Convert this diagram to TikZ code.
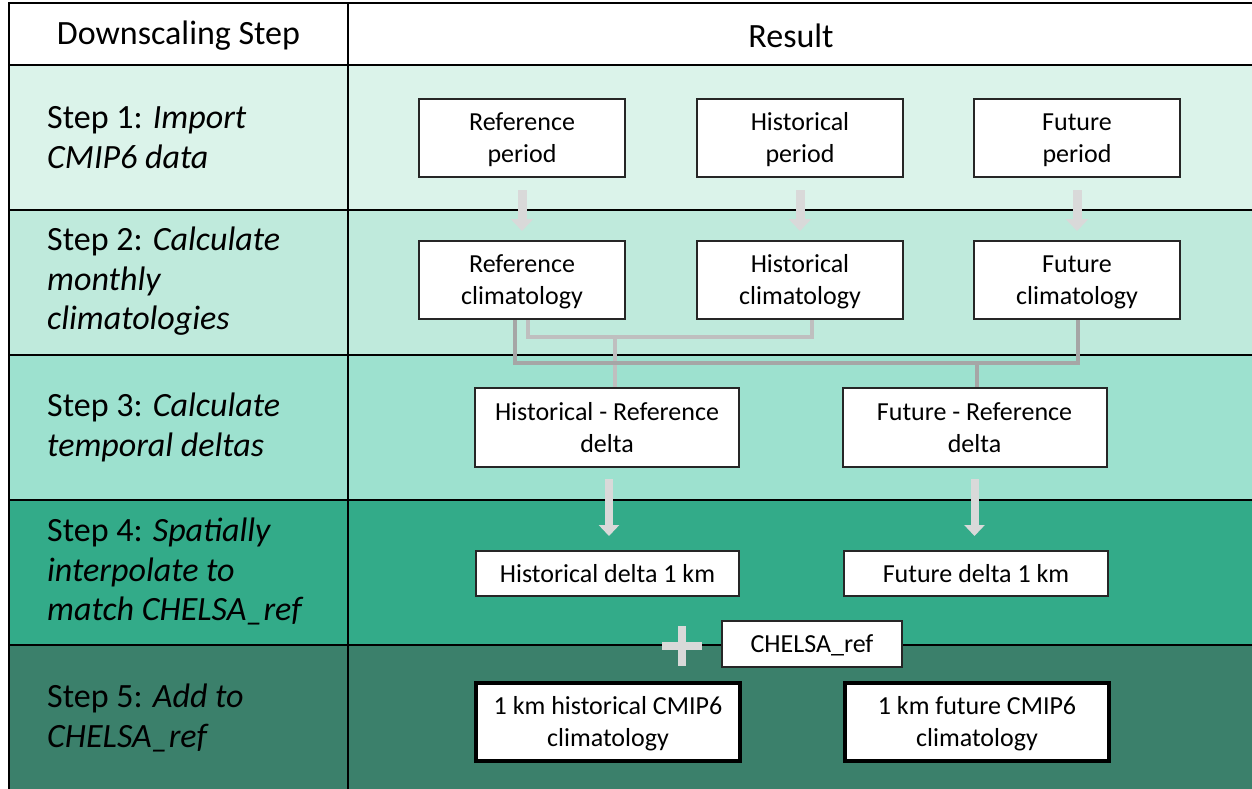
\documentclass[tikz,border=0pt]{standalone}
\usepackage{fontspec}
\setmainfont{Carlito}
\usetikzlibrary{arrows.meta,calc}
\definecolor{rowA}{HTML}{DBF3EA}
\definecolor{rowB}{HTML}{BFEADC}
\definecolor{rowC}{HTML}{9DE1CF}
\definecolor{rowD}{HTML}{33AB89}
\definecolor{rowE}{HTML}{3B806B}
\definecolor{arrowgray}{HTML}{D9D9D9}
\definecolor{conndark}{HTML}{A6A6A6}
\definecolor{connlight}{HTML}{BFBFBF}
\definecolor{boxline}{HTML}{262626}
\newcommand{\dl}[1]{\raisebox{0pt}[\dimexpr\height+5pt\relax][\depth]{\begin{tabular}{@{}c@{}}#1\end{tabular}}}
\begin{document}
\begin{tikzpicture}[x=1pt,y=-1pt,
  tline/.style={draw=black,line width=2pt},
  box/.style={draw=boxline,line width=2pt,fill=white,inner sep=0pt,
    font=\fontsize{26}{32}\selectfont,minimum height=78pt},
  boldbox/.style={box,draw=black,line width=4.5pt},
  steptext/.style={anchor=west,align=left,inner sep=0pt,font=\fontsize{34}{39.5}\selectfont},
  headtext/.style={inner sep=0pt,font=\fontsize{34}{39}\selectfont},
  fatarrow/.style={draw=arrowgray,line width=9pt,-{Triangle[width=22pt,length=12pt]}},
  conndk/.style={draw=conndark,line width=4pt},
  connlt/.style={draw=connlight,line width=4pt},
  plusline/.style={draw=arrowgray,line width=8pt}]
\useasboundingbox (0,0) rectangle (1252,788);
\fill[white] (0,0) rectangle (1252,788);
% row fills
\fill[rowA] (9,65) rectangle (1252,210);
\fill[rowB] (9,210) rectangle (1252,355);
\fill[rowC] (9,355) rectangle (1252,500);
\fill[rowD] (9,500) rectangle (1252,645);
\fill[rowE] (9,645) rectangle (1252,790);
% table lines
\foreach \yy in {3,65,210,355,500,645} {\draw[tline] (8,\yy) -- (1256,\yy);}
\draw[tline] (9,2) -- (9,792);
\draw[tline] (348,2) -- (348,792);
% header
\node[headtext] (hstep) at (178.5,36) {Downscaling Step};
\node[headtext] (hres) at (791,35.5) {Result};
% step labels
\node[steptext] (s1) at (47,137.5) {Step 1: \textit{Import}\\\textit{CMIP6 data}};
\node[steptext] (s2) at (47,281.5) {Step 2: \textit{Calculate}\\\textit{monthly}\\\textit{climatologies}};
\node[steptext] (s3) at (47,427.5) {Step 3: \textit{Calculate}\\\textit{temporal deltas}};
\node[steptext] (s4) at (47,571.5) {Step 4: \textit{Spatially}\\\textit{interpolate to}\\\textit{match CHELSA\_ref}};
\node[steptext] (s5) at (47,718) {Step 5: \textit{Add to}\\\textit{CHELSA\_ref}};
% row 1 boxes
\node[box,minimum width=206pt] (refP) at (522,138) {\dl{Reference\\period}};
\node[box,minimum width=206pt] (histP) at (800,138) {\dl{Historical\\period}};
\node[box,minimum width=206pt] (futP) at (1077,138) {\dl{Future\\period}};
% row 2 boxes
\node[box,minimum width=206pt] (refC) at (522,280) {\dl{Reference\\climatology}};
\node[box,minimum width=206pt] (histC) at (800,280) {\dl{Historical\\climatology}};
\node[box,minimum width=206pt] (futC) at (1077,280) {\dl{Future\\climatology}};
% row 3 boxes
\node[box,minimum width=264pt,minimum height=79pt] (hrd) at (607,427.5) {\dl{Historical - Reference\\delta}};
\node[box,minimum width=264pt,minimum height=79pt] (frd) at (974.5,427.5) {\dl{Future - Reference\\delta}};
% row 4 boxes
\node[box,minimum width=263pt,minimum height=45pt] (hd1) at (607.5,573.5) {Historical delta 1 km};
\node[box,minimum width=264pt,minimum height=45pt] (fd1) at (976,573.5) {Future delta 1 km};
\node[box,minimum width=180pt,minimum height=46pt] (chel) at (812,644) {\dl{CHELSA\_ref}};
% row 5 boxes
\node[boldbox,minimum width=264pt,minimum height=78pt] (h1km) at (608,722) {\dl{1 km historical CMIP6\\climatology}};
\node[boldbox,minimum width=264pt,minimum height=78pt] (f1km) at (977,722) {\dl{1 km future CMIP6\\climatology}};
% arrows row1 -> row2
\draw[fatarrow,shorten <=12pt,shorten >=9pt] (refP.south) -- (refC.north);
\draw[fatarrow,shorten <=12pt,shorten >=9pt] (histP.south) -- (histC.north);
\draw[fatarrow,shorten <=12pt,shorten >=9pt] (futP.south) -- (futC.north);
% connectors row2 -> row3
\coordinate (jH) at (615,337);
\coordinate (jF) at (977,363);
\draw[connlt] ([xshift=6pt]refC.south) |- (jH) -| ([xshift=12pt]histC.south);
\draw[connlt] (jH) -- (jH |- hrd.north);
\draw[conndk] ([xshift=-7pt]refC.south) |- (jF) -| ([xshift=1pt]futC.south);
\draw[conndk] (jF) -- (jF |- frd.north);
% arrows row3 -> row4
\draw[fatarrow,line width=8pt,-{Triangle[width=20pt,length=11pt]},shorten <=11pt,shorten >=14pt] ([xshift=2pt]hrd.south) -- ([xshift=2pt]hrd.south |- hd1.north);
\draw[fatarrow,line width=8pt,-{Triangle[width=20pt,length=11pt]},shorten <=11pt,shorten >=14pt] (frd.south) -- (frd.south |- fd1.north);
% plus sign
\coordinate (plus) at (682,646);
\draw[plusline] ($(plus)+(-20,0)$) -- ($(plus)+(20,0)$);
\draw[plusline] ($(plus)+(0,-20)$) -- ($(plus)+(0,20)$);
\end{tikzpicture}
\end{document}
